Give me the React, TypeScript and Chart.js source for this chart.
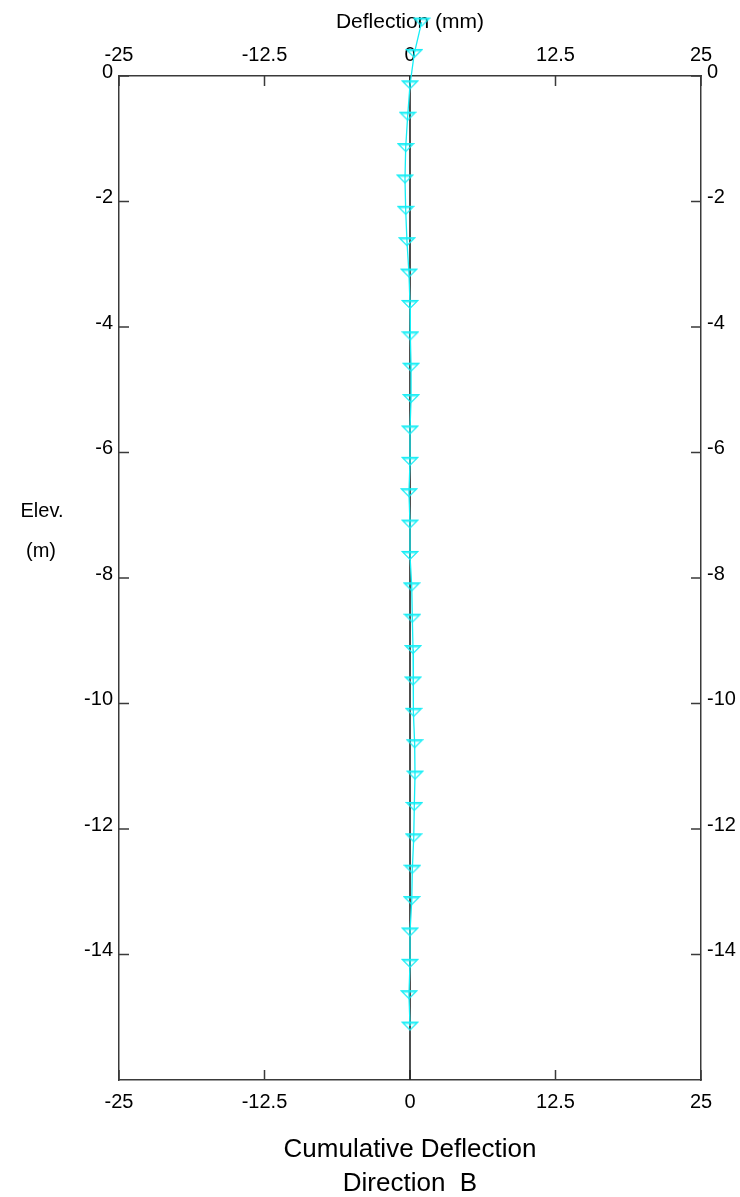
import { useEffect, useRef } from 'react';
import { Chart, registerables } from 'chart.js';

Chart.register(...registerables);

// Inclinometer reading: elevation of each probe station (m) and its cumulative deflection (mm)
const elevations = [
  0.86, 0.36, -0.14, -0.64, -1.14, -1.64, -2.14, -2.64, -3.14, -3.64, -4.14,
  -4.64, -5.14, -5.64, -6.14, -6.64, -7.14, -7.64, -8.14, -8.64, -9.14, -9.64,
  -10.14, -10.64, -11.14, -11.64, -12.14, -12.64, -13.14, -13.64, -14.14, -14.64, -15.14,
];
const deflections = [
  1.0, 0.37, 0.0, -0.2, -0.37, -0.43, -0.37, -0.26, -0.09, 0.0, 0.03,
  0.09, 0.09, 0.0, 0.0, -0.09, 0.0, 0.0, 0.15, 0.2, 0.26, 0.26,
  0.32, 0.4, 0.43, 0.37, 0.32, 0.2, 0.15, 0.0, 0.0, -0.09, 0.0,
];

// Zero-deflection reference line
const referenceDeflection = [0, 0];
const referenceElevation = [0, -16];

const xTicks = [-25, -12.5, 0, 12.5, 25];
const yTicks = [0, -2, -4, -6, -8, -10, -12, -14];
const xMin = -25;
const xMax = 25;
const yMin = -16;
const yMax = 0;

const FONT = '"Liberation Sans", Arial, Helvetica, sans-serif';
const CYAN = '#14EEF6';
const AXIS = '#3a3a3a';
const W = 740;
const H = 1197;

function makeTriangle(): HTMLCanvasElement {
  const c = document.createElement('canvas');
  c.width = 18;
  c.height = 11;
  const g = c.getContext('2d')!;
  g.strokeStyle = CYAN;
  g.lineWidth = 1.2;
  g.beginPath();
  g.moveTo(1, 1.5);
  g.lineTo(17, 1.5);
  g.lineTo(9, 9.5);
  g.closePath();
  g.stroke();
  g.beginPath();
  g.moveTo(2.5, 2.8);
  g.lineTo(15.5, 2.8);
  g.stroke();
  return c;
}

const frame = {
  id: 'frameAndLabels',
  beforeDatasetsDraw(chart: any) {
    const { ctx, scales } = chart;
    const { x, y, x2, y2 } = scales;
    ctx.save();
    // inward tick marks on all four sides
    ctx.strokeStyle = AXIS;
    ctx.lineWidth = 1.5;
    ctx.beginPath();
    for (const v of xTicks) {
      const px = x.getPixelForValue(v);
      ctx.moveTo(px, x.top);
      ctx.lineTo(px, x.top - 10);
      const pt = x2.getPixelForValue(v);
      ctx.moveTo(pt, x2.bottom);
      ctx.lineTo(pt, x2.bottom + 10);
    }
    for (const v of yTicks) {
      const py = y.getPixelForValue(v);
      ctx.moveTo(y.right, py);
      ctx.lineTo(y.right + 10, py);
      const pr = y2.getPixelForValue(v);
      ctx.moveTo(y2.left, pr);
      ctx.lineTo(y2.left - 10, pr);
    }
    ctx.stroke();

    // axis captions
    ctx.fillStyle = '#000';
    ctx.textAlign = 'center';
    ctx.textBaseline = 'middle';
    const cx = x.getPixelForValue(0);
    ctx.font = `21px ${FONT}`;
    ctx.fillText('Deflection (mm)', cx, 22);
    ctx.font = `20px ${FONT}`;
    ctx.fillText('Elev.', 42, 511);
    ctx.fillText('(m)', 41, 551);
    ctx.font = `26px ${FONT}`;
    ctx.fillText('Cumulative Deflection', cx, 1150);
    ctx.fillText('Direction  B', cx, 1184);
    ctx.restore();
  },
  // stations above the top of the frame still get their markers
  afterDatasetsDraw(chart: any) {
    const meta = chart.getDatasetMeta(0);
    const area = chart.chartArea;
    const full = { left: 0, top: 0, right: W, bottom: H };
    const { ctx } = chart;
    ctx.save();
    for (const el of meta.data) {
      if (el.y < area.top - 1) el.draw(ctx, full);
    }
    ctx.restore();
  },
};

function xScale(position: 'top' | 'bottom', size: number, padding: number) {
  return {
    type: 'linear',
    position,
    min: xMin,
    max: xMax,
    grid: { display: false, drawTicks: false },
    border: { display: true, color: AXIS, width: 1.5 },
    ticks: {
      font: { family: FONT, size: 20 },
      color: '#000',
      padding,
      maxRotation: 0,
      autoSkip: false,
      callback: (v: number) => String(v),
    },
    afterBuildTicks: (s: any) => {
      s.ticks = xTicks.map((v) => ({ value: v }));
    },
    afterFit: (s: any) => {
      s.height = size;
    },
  };
}

function yScale(position: 'left' | 'right', size: number) {
  return {
    type: 'linear',
    position,
    min: yMin,
    max: yMax,
    grid: { display: false, drawTicks: false },
    border: { display: true, color: AXIS, width: 1.5 },
    ticks: {
      font: { family: FONT, size: 20 },
      color: '#000',
      padding: 6,
      labelOffset: -4,
      autoSkip: false,
      callback: (v: number) => String(v),
    },
    afterBuildTicks: (s: any) => {
      s.ticks = yTicks.map((v) => ({ value: v }));
    },
    afterFit: (s: any) => {
      s.width = size;
    },
  };
}

export default function App() {
  const ref = useRef<HTMLCanvasElement>(null);

  useEffect(() => {
    if (!ref.current) return;
    Chart.defaults.font.family = FONT;
    const triangle = makeTriangle();
    const chart = new Chart(ref.current, {
      type: 'line',
      data: {
        datasets: [
          {
            label: 'Direction B',
            data: elevations.map((e, i) => ({ x: deflections[i], y: e })),
            borderColor: CYAN,
            borderWidth: 1.3,
            pointStyle: triangle as any,
            pointRadius: 5,
            tension: 0,
            clip: false as any,
            order: 0,
          },
          {
            label: 'Reference',
            data: referenceElevation.map((e, i) => ({ x: referenceDeflection[i], y: e })),
            borderColor: '#222',
            borderWidth: 1.6,
            pointRadius: 0,
            order: 1,
          },
        ],
      },
      options: {
        animation: false,
        responsive: false,
        events: [],
        layout: { padding: 0 },
        plugins: {
          legend: { display: false },
          tooltip: { enabled: false },
          title: { display: false },
        },
        scales: {
          x: xScale('bottom', H - 1080, 10),
          x2: xScale('top', 76, 9),
          y: yScale('left', 119),
          y2: yScale('right', W - 701),
        } as any,
      },
      plugins: [frame],
    });
    return () => chart.destroy();
  }, []);

  return (
    <div style={{ position: 'fixed', left: 0, top: 0, width: W, height: H, background: '#fff' }}>
      <canvas ref={ref} width={W} height={H} style={{ display: 'block' }} />
    </div>
  );
}
